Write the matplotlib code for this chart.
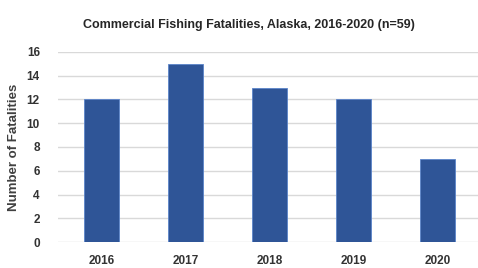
import matplotlib
matplotlib.use('Agg')
import matplotlib.pyplot as plt

years = ['2016', '2017', '2018', '2019', '2020']
fatalities = [12, 15, 13, 12, 7]
yticks = [0, 2, 4, 6, 8, 10, 12, 14, 16]

plt.rcParams['font.family'] = ['Liberation Sans', 'DejaVu Sans']
plt.rcParams['font.weight'] = 'bold'
plt.rcParams['axes.labelweight'] = 'bold'

fig = plt.figure(figsize=(4.78, 2.68), dpi=100)
ax = fig.add_axes([0.121, 0.097, 0.879, 0.709])

ax.bar(years, fatalities, width=0.41, color='#2F5597', edgecolor='#5B84C9', linewidth=0.6, zorder=3)

ax.set_ylim(0, 16)
ax.set_xlim(-0.52, 4.48)
ax.set_yticks(yticks)
ax.yaxis.grid(True, color='#D9D9D9', linewidth=1.0, zorder=0)
for s in ax.spines.values():
    s.set_visible(False)
ax.tick_params(axis='both', length=0, labelsize=8.5, colors='#333333')
ax.tick_params(axis='x', pad=9)
ax.tick_params(axis='y', pad=13)

ax.set_ylabel('Number of Fatalities', fontsize=9.5, color='#404040', labelpad=5, fontweight='bold')
fig.text(0.52, 0.905, 'Commercial Fishing Fatalities, Alaska, 2016-2020 (n=59)',
         ha='center', va='center', fontsize=9, color='#262626', fontweight='bold')

fig.savefig('out.png', dpi=100)
